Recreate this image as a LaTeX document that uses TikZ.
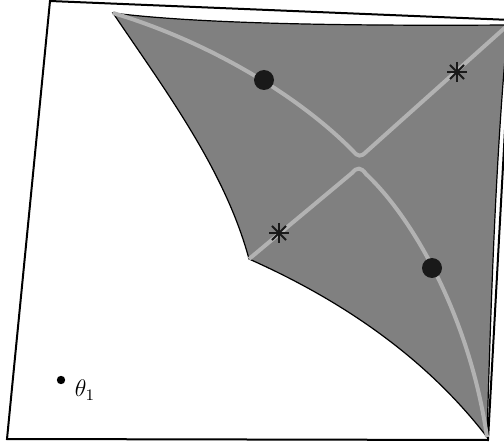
\documentclass[tikz,border=0pt]{standalone}
\usetikzlibrary{positioning}

\begin{document}
\begin{tikzpicture}[x=0.5pt,y=-0.5pt,
  frame/.style={line width=1pt,line join=miter},
  region/.style={fill=black!50,draw=black,line width=0.6pt},
  geod/.style={draw=black!30,line width=2pt},
  bigdot/.style={circle,fill=black!90,inner sep=0pt,minimum size=10pt},
  smalldot/.style={circle,fill=black,inner sep=0pt,minimum size=4.2pt},
  starmark/.style={inner sep=0pt,minimum size=11pt,path picture={
    \foreach \a in {0,45,90,135}
      \draw[black!90,line width=0.9pt] ([shift={(\a:5pt)}]path picture bounding box.center)
        -- ([shift={(\a+180:5pt)}]path picture bounding box.center);}}]
\useasboundingbox (0,0) rectangle (504,444);
% outer frame
\coordinate (P1) at (50,1); \coordinate (P2) at (511,20);
\coordinate (P3) at (488,440); \coordinate (P4) at (7,439);
\draw[frame] (P1) -- (P2) -- (P3) -- (P4) -- cycle;
% shaded region
\coordinate (A) at (113,13); \coordinate (B) at (508,25);
\coordinate (C) at (487,437); \coordinate (D) at (249,259);
\path[region] (A) .. controls (200,24) and (350,26) .. (B)
  .. controls (496,150) and (491,300) .. (C)
  .. controls (420,350) and (330,295) .. (D)
  .. controls (225,170) and (165,90) .. (A) -- cycle;
% the two curves
\draw[geod] (A) .. controls (210,42) and (300,97) .. (353,151)
  .. controls (358,157) and (361,157) .. (366,152) -- (B);
\draw[geod] (D) -- (352,173) .. controls (357,167) and (361,167) .. (366,174)
  .. controls (415,220) and (470,320) .. (C);
% marks
\node[bigdot] (m1) at (264,80) {};
\node[bigdot] (m2) at (432,268) {};
\node[starmark] (s1) at (457,72) {};
\node[starmark] (s2) at (279,233) {};
\node[smalldot] (th) at (61,380) {};
\node[font=\large] (thl) at (85,390) {$\theta_1$};
\end{tikzpicture}
\end{document}
